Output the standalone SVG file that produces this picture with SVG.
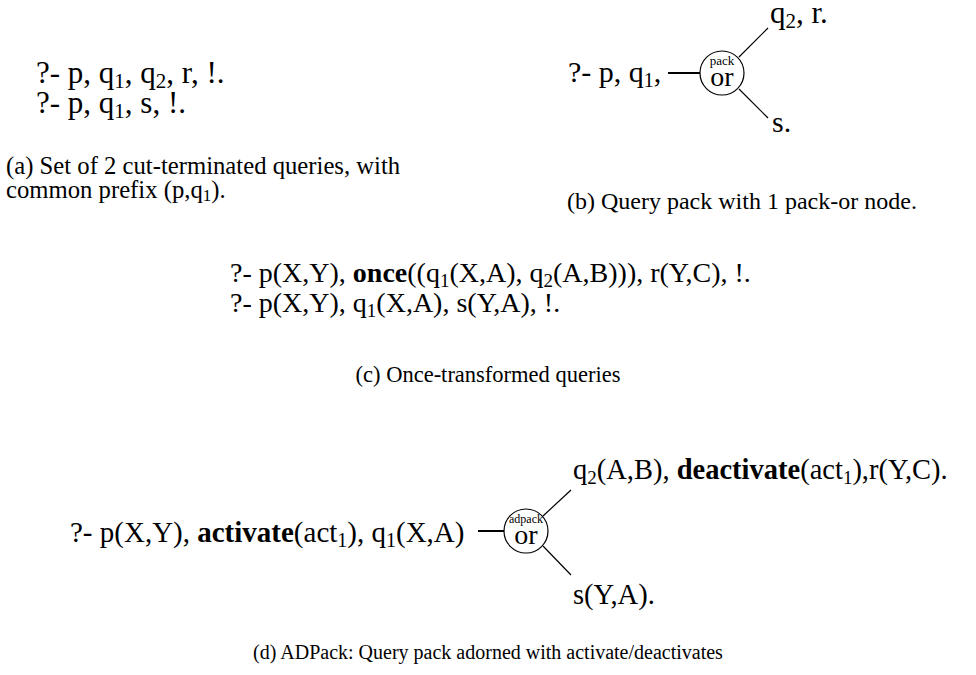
<svg xmlns="http://www.w3.org/2000/svg" width="976" height="675" viewBox="0 0 976 675">
<style>
text{font-family:"Liberation Serif","Times New Roman",serif;fill:#000}
.b{font-weight:bold}
.edge{stroke:#000;stroke-width:1.2;fill:none}
.stem{stroke:#000;stroke-width:2;fill:none}
.node{stroke:#000;stroke-width:1.2;fill:#fff}
.small{font-size:13px}
.or{font-size:28px}
</style>
<rect width="976" height="675" fill="#fff"/>
<g id="panel-a">
<text x="36" y="83" style="font-size:31px">?- p, q<tspan dy="5" style="font-size:21px">1</tspan><tspan dy="-5">, q</tspan><tspan dy="5" style="font-size:21px">2</tspan><tspan dy="-5">, r, !.</tspan></text>
<text x="36" y="113" style="font-size:31px">?- p, q<tspan dy="5" style="font-size:21px">1</tspan><tspan dy="-5">, s, !.</tspan></text>
<text x="6" y="174" style="font-size:24.7px">(a) Set of 2 cut-terminated queries, with</text>
<text x="6" y="198" style="font-size:24.7px">common prefix (p,q<tspan dy="3" style="font-size:17px">1</tspan><tspan dy="-3">).</tspan></text>
</g>
<g id="connectors">
<line class="stem" x1="668" y1="73" x2="700" y2="73"/>
<line class="edge" x1="739" y1="57" x2="768" y2="28"/>
<line class="edge" x1="739" y1="89" x2="768" y2="118"/>
<line class="stem" x1="478" y1="531" x2="504" y2="531"/>
<line class="edge" x1="543" y1="516" x2="571" y2="490"/>
<line class="edge" x1="543" y1="546" x2="571" y2="575"/>
</g>
<g id="panel-b">
<text x="568" y="82" style="font-size:30px">?- p, q<tspan dy="5" style="font-size:20px">1</tspan><tspan dy="-5">,</tspan></text>
<g id="pack-or">
<circle class="node" cx="722" cy="73" r="22"/>
<text class="small" x="722" y="65" text-anchor="middle">pack</text>
<text class="or" x="722" y="86" text-anchor="middle">or</text>
</g>
<text x="770" y="23" style="font-size:31px">q<tspan dy="5" style="font-size:21px">2</tspan><tspan dy="-5">, r.</tspan></text>
<text x="772" y="132" style="font-size:30px">s.</text>
<text x="567" y="209" style="font-size:24px">(b) Query pack with 1 pack-or node.</text>
</g>
<g id="panel-c">
<text x="230" y="282" style="font-size:28px">?- p(X,Y), <tspan class="b">once</tspan>((q<tspan dy="5" style="font-size:19px">1</tspan><tspan dy="-5">(X,A), q</tspan><tspan dy="5" style="font-size:19px">2</tspan><tspan dy="-5">(A,B))), r(Y,C), !.</tspan></text>
<text x="230" y="312" style="font-size:28px">?- p(X,Y), q<tspan dy="5" style="font-size:19px">1</tspan><tspan dy="-5">(X,A), s(Y,A), !.</tspan></text>
<text x="488" y="382" text-anchor="middle" style="font-size:22.5px">(c) Once-transformed queries</text>
</g>
<g id="panel-d">
<text x="70" y="542" style="font-size:29px">?- p(X,Y), <tspan class="b">activate</tspan>(act<tspan dy="5" style="font-size:20px">1</tspan><tspan dy="-5">), q</tspan><tspan dy="5" style="font-size:20px">1</tspan><tspan dy="-5">(X,A)</tspan></text>
<g id="adpack-or">
<circle class="node" cx="526" cy="531" r="22"/>
<text class="small" x="526" y="523" text-anchor="middle" textLength="34" lengthAdjust="spacingAndGlyphs">adpack</text>
<text class="or" x="526" y="544" text-anchor="middle">or</text>
</g>
<text x="573" y="479" style="font-size:28.5px">q<tspan dy="5" style="font-size:19px">2</tspan><tspan dy="-5">(A,B), </tspan><tspan class="b">deactivate</tspan>(act<tspan dy="5" style="font-size:19px">1</tspan><tspan dy="-5">),r(Y,C).</tspan></text>
<text x="573" y="604" style="font-size:28.5px">s(Y,A).</text>
<text x="488" y="659" text-anchor="middle" style="font-size:20px">(d) ADPack: Query pack adorned with activate/deactivates</text>
</g>
</svg>
